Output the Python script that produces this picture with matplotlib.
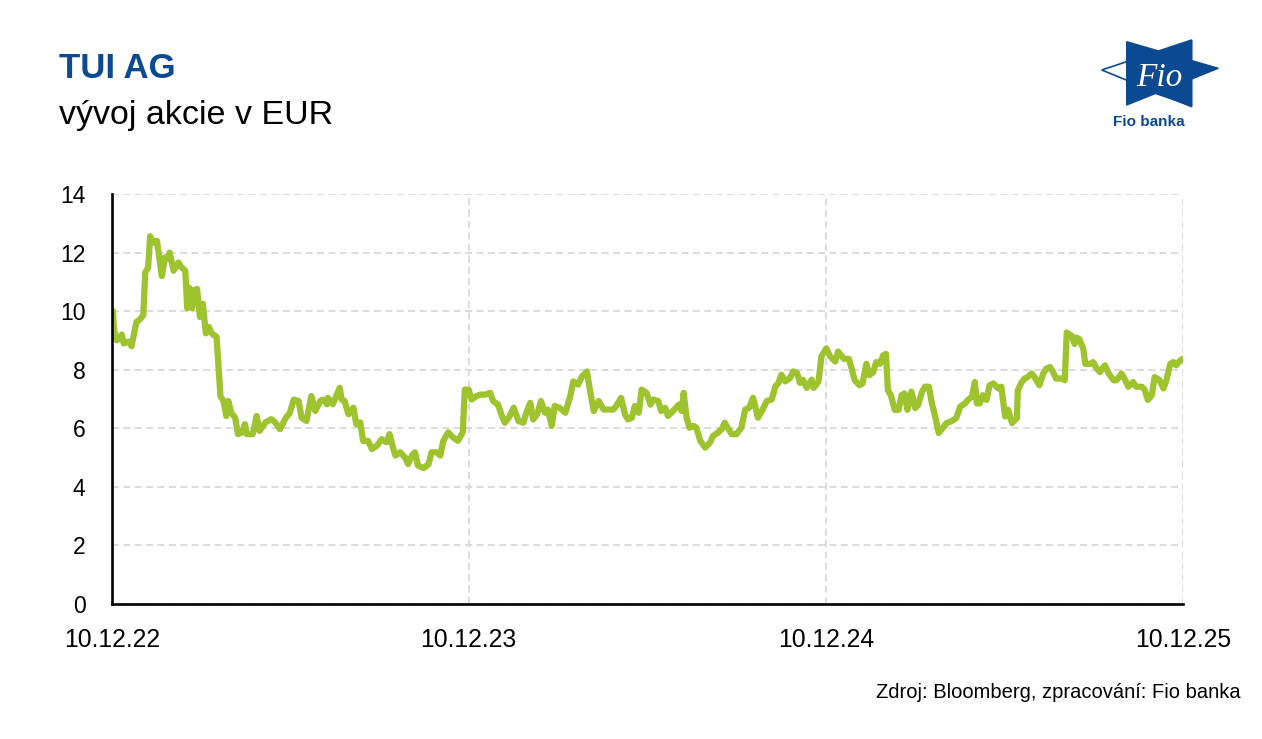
import matplotlib
matplotlib.use("Agg")
import matplotlib.pyplot as plt
import matplotlib.dates as mdates
from matplotlib.patches import Polygon
import pandas as pd
import numpy as np

plt.rcParams['font.family'] = ['Liberation Sans', 'DejaVu Sans']
plt.rcParams['lines.scale_dashes'] = False

# ---- data (days since 10.12.2022, price in EUR) ----
start_date = "2022-12-10"
days = [1, 2, 5, 10, 12, 17, 20, 25, 28, 32, 34, 37, 39, 42, 46, 51, 54, 56, 59, 63,
        68, 71, 75, 77, 79, 82, 83, 87, 90, 93, 96, 99, 102, 107, 111, 114, 117, 119, 122, 126,
        129, 133, 136, 138, 144, 148, 151, 157, 163, 167, 172, 177, 182, 186, 191, 194, 199, 204, 208, 213,
        216, 220, 221, 226, 233, 235, 238, 242, 247, 250, 254, 257, 262, 266, 271, 276, 281, 284, 288, 290,
        295, 300, 303, 307, 310, 313, 319, 324, 327, 332, 336, 339, 344, 349, 354, 359, 361, 365, 368, 373,
        377, 382, 387, 390, 395, 399, 402, 406, 411, 416, 421, 424, 428, 431, 435, 439, 443, 446, 450, 453,
        458, 464, 469, 472, 477, 481, 486, 489, 493, 498, 503, 508, 513, 516, 521, 525, 528, 532, 535, 539,
        542, 547, 551, 554, 559, 562, 566, 569, 574, 580, 583, 585, 588, 591, 595, 598, 602, 607, 612, 615,
        620, 624, 627, 631, 634, 639, 644, 648, 652, 656, 661, 665, 670, 675, 679, 682, 685, 689, 694, 697,
        701, 704, 707, 711, 716, 718, 723, 726, 731, 735, 740, 743, 749, 754, 757, 760, 765, 768, 772, 775,
        779, 782, 786, 789, 792, 794, 797, 801, 805, 808, 811, 814, 818, 822, 825, 829, 832, 836, 839, 842,
        846, 849, 854, 859, 864, 868, 873, 876, 880, 883, 885, 888, 891, 895, 898, 902, 907, 910, 914, 917,
        921, 926, 927, 931, 934, 937, 941, 944, 949, 953, 956, 960, 963, 966, 972, 975, 977, 982, 985, 987,
        990, 994, 996, 1001, 1004, 1008, 1011, 1016, 1020, 1025, 1028, 1033, 1037, 1040, 1045, 1048, 1054, 1057, 1060, 1064,
        1067, 1072, 1076, 1079, 1083, 1086, 1089, 1093, 1096]
prices = [10.0, 9.35, 9.0, 9.2, 8.9, 8.96, 8.8, 9.63, 9.7, 9.86, 11.32, 11.5, 12.56, 12.34, 12.4, 11.2, 11.83, 11.78, 12.0, 11.38,
          11.66, 11.5, 11.38, 10.1, 10.8, 10.1, 10.7, 10.76, 9.8, 10.25, 9.24, 9.46, 9.24, 9.12, 7.1, 6.93, 6.42, 6.93, 6.53, 6.36,
          5.8, 5.86, 6.14, 5.8, 5.8, 6.42, 5.91, 6.2, 6.31, 6.2, 5.97, 6.31, 6.53, 6.98, 6.93, 6.36, 6.25, 7.1, 6.59, 6.93,
          6.98, 6.82, 7.04, 6.82, 7.38, 6.98, 6.93, 6.48, 6.7, 6.14, 6.2, 5.57, 5.57, 5.29, 5.4, 5.63, 5.52, 5.8, 5.29, 5.07,
          5.18, 5.0, 4.78, 5.07, 5.18, 4.73, 4.64, 4.78, 5.18, 5.18, 5.07, 5.57, 5.86, 5.69, 5.57, 5.86, 7.32, 7.32, 6.98, 7.1,
          7.15, 7.15, 7.21, 6.93, 6.81, 6.42, 6.19, 6.36, 6.7, 6.25, 6.19, 6.53, 6.87, 6.3, 6.47, 6.93, 6.53, 6.64, 6.08, 6.76,
          6.7, 6.53, 7.1, 7.6, 7.49, 7.77, 7.94, 7.32, 6.59, 6.93, 6.64, 6.64, 6.64, 6.76, 7.04, 6.47, 6.3, 6.36, 6.76, 6.53,
          7.32, 7.21, 6.81, 6.98, 6.93, 6.59, 6.7, 6.42, 6.59, 6.81, 6.59, 7.21, 6.36, 6.02, 6.08, 6.02, 5.57, 5.34, 5.51, 5.74,
          5.85, 5.97, 6.19, 5.97, 5.8, 5.8, 6.02, 6.64, 6.7, 7.04, 6.36, 6.59, 6.93, 6.98, 7.44, 7.55, 7.83, 7.6, 7.72, 7.94,
          7.89, 7.55, 7.66, 7.38, 7.66, 7.38, 7.6, 8.45, 8.73, 8.45, 8.28, 8.62, 8.37, 8.37, 8.03, 7.64, 7.47, 7.53, 8.2, 7.81,
          7.92, 8.26, 8.2, 8.48, 8.54, 7.3, 7.13, 6.63, 6.63, 7.13, 7.19, 6.63, 7.25, 6.69, 6.8, 7.25, 7.42, 7.42, 6.85, 6.46,
          5.84, 5.96, 6.18, 6.24, 6.35, 6.74, 6.85, 6.97, 7.08, 7.58, 6.85, 6.85, 7.13, 6.97, 7.47, 7.53, 7.36, 7.42, 6.4, 6.63,
          6.18, 6.35, 7.3, 7.58, 7.7, 7.75, 7.87, 7.75, 7.47, 7.87, 8.03, 8.09, 7.92, 7.7, 7.7, 7.64, 9.27, 9.16, 8.88, 9.1,
          9.04, 8.71, 8.2, 8.2, 8.26, 8.03, 7.92, 8.15, 7.87, 7.64, 7.64, 7.87, 7.64, 7.42, 7.58, 7.42, 7.42, 7.3, 6.97, 7.13,
          7.75, 7.64, 7.36, 7.64, 8.2, 8.26, 8.15, 8.31, 8.37]
tick_dates = ["2022-12-10", "2023-12-10", "2024-12-10", "2025-12-10"]
y_ticks = [0, 2, 4, 6, 8, 10, 12, 14]
title = "TUI AG"
subtitle = "vývoj akcie v EUR"
source = "Zdroj: Bloomberg, zpracování: Fio banka"

dates = pd.Timestamp(start_date) + pd.to_timedelta(days, unit="D")
ticks = pd.to_datetime(tick_dates)

W, H = 1262, 739
fig = plt.figure(figsize=(W / 100, H / 100), dpi=100)
fig.patch.set_facecolor("white")

ax = fig.add_axes([112 / W, 1 - 604 / H, (1183 - 112) / W, (604 - 194) / H])
ax.plot(dates, prices, color="#9DC32F", lw=4.5, solid_joinstyle="round",
        solid_capstyle="round", zorder=3)

ax.set_xlim(ticks[0], ticks[-1])
ax.set_ylim(0, 14)
ax.set_yticks(y_ticks)
ax.set_xticks(ticks)
ax.xaxis.set_major_formatter(mdates.DateFormatter("%d.%m.%y"))

ax.grid(True, color="#D9D9D9", lw=1.3, dashes=(5, 3.2))
ax.set_axisbelow(True)
for s in ["top", "right"]:
    ax.spines[s].set_visible(False)
for s in ["left", "bottom"]:
    ax.spines[s].set_linewidth(1.9)
    ax.spines[s].set_color("black")
    ax.spines[s].set_zorder(4)
ax.tick_params(axis="both", length=0, colors="black")
ax.tick_params(axis="y", pad=19, labelsize=16.5)
ax.tick_params(axis="x", pad=17, labelsize=17.8)

# titles
fig.text(59 / W, 1 - 78 / H, title, fontsize=25, fontweight="bold", color="#0B4A92",
         ha="left", va="baseline")
fig.text(59 / W, 1 - 124 / H, subtitle, fontsize=24.5, color="black",
         ha="left", va="baseline")
fig.text(1241 / W, 1 - 698 / H, source, fontsize=14.5, color="black",
         ha="right", va="baseline")

# logo (drawn in pixel coordinates)
lax = fig.add_axes([0, 0, 1, 1], zorder=5)
lax.set_xlim(0, W)
lax.set_ylim(H, 0)
lax.axis("off")
blue = "#0B4A92"
left_tri = Polygon([(1101.7, 70), (1191.7, 40), (1191.7, 106.7)], closed=True,
                   facecolor="white", edgecolor=blue, lw=1.2)
right_tri = Polygon([(1126.7, 41.7), (1218.3, 68.3), (1126.7, 105)], closed=True,
                    facecolor=blue, edgecolor=blue, lw=1.0)
lax.add_patch(left_tri)
lax.add_patch(right_tri)
overlap = Polygon([(1126.7, 61.6), (1191.7, 40), (1191.7, 106.7), (1126.7, 84.3)],
                  closed=True, facecolor=blue, edgecolor="none")
lax.add_patch(overlap)
lax.text(1159, 86, "Fio", fontsize=24, color="white", family="Liberation Serif",
         style="italic", ha="center", va="baseline")
lax.text(1149, 126, "Fio banka", fontsize=11, color=blue, fontweight="bold",
         ha="center", va="baseline")

fig.savefig("out.png", dpi=100, facecolor="white")
